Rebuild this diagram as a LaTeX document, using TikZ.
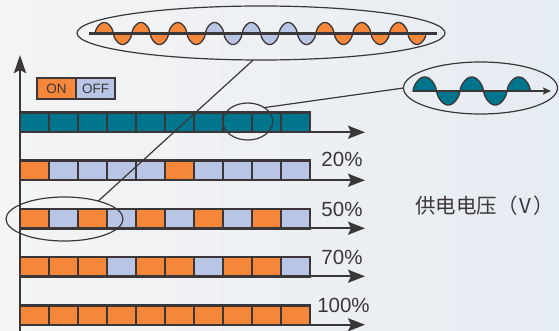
\documentclass[tikz,border=0pt]{standalone}
\usepackage{fontspec}
\setmainfont{Liberation Sans}
\newfontfamily\cjk{Noto Sans CJK SC}
\usepackage{tikz}
\usetikzlibrary{shapes.geometric,arrows.meta}

\definecolor{ongo}{HTML}{F5873B}
\definecolor{offgo}{HTML}{B9C5E4}
\definecolor{fullgo}{HTML}{00758D}
\definecolor{edge}{HTML}{3B3739}
\definecolor{bgleft}{HTML}{F4F4F4}
\definecolor{bgright}{HTML}{E6ECF3}

\begin{document}
\begin{tikzpicture}[x=1pt, y=-1pt,
  every node/.style={inner sep=0pt, outer sep=0pt},
  cell/.style={draw=edge, line width=2.5pt, minimum width=29pt, minimum height=19.5pt},
  onbox/.style={cell, fill=ongo},
  offbox/.style={cell, fill=offgo},
  fullbox/.style={cell, fill=fullgo},
  pct/.style={text=edge, font=\fontsize{20.5}{20.5}\selectfont},
  ring/.style={ellipse, draw=edge, line width=1.2pt},
  link/.style={draw=edge, line width=1.2pt},
  axisline/.style={draw=edge, line width=2.5pt, -{Stealth[length=18pt, width=12pt, inset=3pt]}},
  rowline/.style={draw=edge, line width=2pt, -{Stealth[length=17pt, width=13pt, inset=3pt]}},
  lobe/.style={draw=edge, line width=1.3pt}]

\useasboundingbox (0,0) rectangle (559,331);
\shade[left color=bgleft, middle color=bgleft, right color=bgright] (0,0) rectangle (559,331);

\coordinate (bot) at (20,331);
\coordinate (top) at (20,55);
\draw[axisline] (bot) -- (top);

\node[onbox, minimum width=39pt, minimum height=21pt, line width=2pt, text=edge, font=\fontsize{13.5}{13.5}\selectfont] (legon) at (56.5,88.5) {ON};
\node[offbox, minimum width=39pt, minimum height=21pt, line width=2pt, text=edge, font=\fontsize{13.5}{13.5}\selectfont] (legoff) at (95.5,88.5) {OFF};

\node[fullbox] (r1c1) at (34.5,122.5) {};
\node[fullbox] (r1c2) at (63.5,122.5) {};
\node[fullbox] (r1c3) at (92.5,122.5) {};
\node[fullbox] (r1c4) at (121.5,122.5) {};
\node[fullbox] (r1c5) at (150.5,122.5) {};
\node[fullbox] (r1c6) at (179.5,122.5) {};
\node[fullbox] (r1c7) at (208.5,122.5) {};
\node[fullbox] (r1c8) at (237.5,122.5) {};
\node[fullbox] (r1c9) at (266.5,122.5) {};
\node[fullbox] (r1c10) at (295.5,122.5) {};

\node[onbox] (r2c1) at (34.5,170.5) {};
\node[offbox] (r2c2) at (63.5,170.5) {};
\node[offbox] (r2c3) at (92.5,170.5) {};
\node[offbox] (r2c4) at (121.5,170.5) {};
\node[offbox] (r2c5) at (150.5,170.5) {};
\node[onbox] (r2c6) at (179.5,170.5) {};
\node[offbox] (r2c7) at (208.5,170.5) {};
\node[offbox] (r2c8) at (237.5,170.5) {};
\node[offbox] (r2c9) at (266.5,170.5) {};
\node[offbox] (r2c10) at (295.5,170.5) {};

\node[onbox] (r3c1) at (34.5,218.5) {};
\node[offbox] (r3c2) at (63.5,218.5) {};
\node[onbox] (r3c3) at (92.5,218.5) {};
\node[offbox] (r3c4) at (121.5,218.5) {};
\node[onbox] (r3c5) at (150.5,218.5) {};
\node[offbox] (r3c6) at (179.5,218.5) {};
\node[onbox] (r3c7) at (208.5,218.5) {};
\node[offbox] (r3c8) at (237.5,218.5) {};
\node[onbox] (r3c9) at (266.5,218.5) {};
\node[offbox] (r3c10) at (295.5,218.5) {};

\node[onbox] (r4c1) at (34.5,266.5) {};
\node[onbox] (r4c2) at (63.5,266.5) {};
\node[onbox] (r4c3) at (92.5,266.5) {};
\node[offbox] (r4c4) at (121.5,266.5) {};
\node[onbox] (r4c5) at (150.5,266.5) {};
\node[onbox] (r4c6) at (179.5,266.5) {};
\node[offbox] (r4c7) at (208.5,266.5) {};
\node[onbox] (r4c8) at (237.5,266.5) {};
\node[onbox] (r4c9) at (266.5,266.5) {};
\node[offbox] (r4c10) at (295.5,266.5) {};

\node[onbox] (r5c1) at (34.5,315) {};
\node[onbox] (r5c2) at (63.5,315) {};
\node[onbox] (r5c3) at (92.5,315) {};
\node[onbox] (r5c4) at (121.5,315) {};
\node[onbox] (r5c5) at (150.5,315) {};
\node[onbox] (r5c6) at (179.5,315) {};
\node[onbox] (r5c7) at (208.5,315) {};
\node[onbox] (r5c8) at (237.5,315) {};
\node[onbox] (r5c9) at (266.5,315) {};
\node[onbox] (r5c10) at (295.5,315) {};

\coordinate (e1) at (365,132.25);
\coordinate (e2) at (365,180.25);
\coordinate (e3) at (365,228.25);
\coordinate (e4) at (365,276.25);
\coordinate (e5) at (365,324.75);
\draw[rowline] (r1c1.south west) -- (e1);
\draw[rowline] (r2c1.south west) -- (e2);
\draw[rowline] (r3c1.south west) -- (e3);
\draw[rowline] (r4c1.south west) -- (e4);
\draw[rowline] (r5c1.south west) -- (e5);

\node[pct] (p20) at (342,159.5) {20\%};
\node[pct] (p50) at (342,209) {50\%};
\node[pct] (p70) at (342,257) {70\%};
\node[pct] (p100) at (343.5,305.5) {100\%};
\node[text=edge, anchor=east, font=\cjk\fontsize{20.5}{20.5}\selectfont] (volt) at (554,206) {供电电压（\hspace{2pt}V\hspace{2pt}）};

\node[ring, minimum width=368pt, minimum height=54pt] (zoomtop) at (261,33) {};
\node[ring, minimum width=117pt, minimum height=44pt] (zoomrow) at (64.5,219) {};
\node[ring, minimum width=50pt, minimum height=37pt] (zoomcell) at (247.7,121.5) {};
\node[ring, minimum width=154pt, minimum height=52pt] (zoomwave) at (480.5,88) {};
\draw[link] (zoomtop.-106.5) -- (zoomrow.28);
\draw[link] (zoomcell.40) -- (zoomwave.180);

\filldraw[lobe, fill=ongo] (95,33.5) -- plot[domain=0:1080, samples=121] ({95+\x/360*36.8}, {33.5-11*sign(sin(\x))*(abs(sin(\x))+0.0001)^0.6}) -- (205.4,33.5) -- cycle;
\filldraw[lobe, fill=offgo] (205.4,33.5) -- plot[domain=0:1080, samples=121] ({205.4+\x/360*36.8}, {33.5-11*sign(sin(\x))*(abs(sin(\x))+0.0001)^0.6}) -- (315.8,33.5) -- cycle;
\filldraw[lobe, fill=ongo] (315.8,33.5) -- plot[domain=0:1080, samples=121] ({315.8+\x/360*36.8}, {33.5-11*sign(sin(\x))*(abs(sin(\x))+0.0001)^0.6}) -- (426.2,33.5) -- cycle;
\coordinate (tw1) at (89,33.5);
\coordinate (tw2) at (437,33.5);
\draw[draw=edge, line width=2.2pt] (tw1) -- (tw2);

\filldraw[lobe, fill=fullgo] (413,91) -- plot[domain=0:900, samples=121] ({413+\x/360*47}, {91-14*sign(sin(\x))*(abs(sin(\x))+0.0001)^0.6}) -- (530.5,91) -- cycle;
\coordinate (rw1) at (413,91);
\coordinate (rw2) at (551,91);
\draw[draw=edge, line width=2.2pt, -{Stealth[length=8pt, width=7pt, inset=1.5pt]}] (rw1) -- (rw2);
\end{tikzpicture}
\end{document}
